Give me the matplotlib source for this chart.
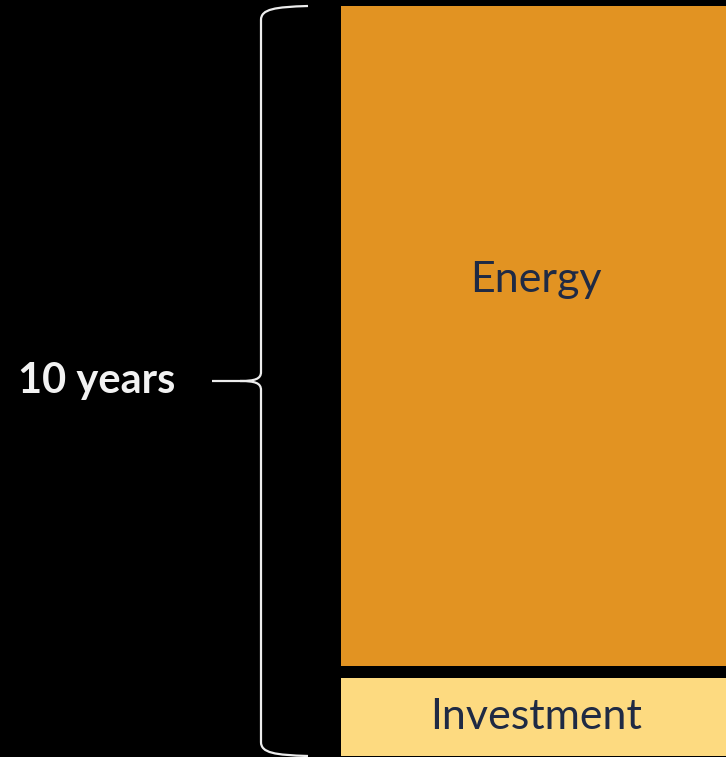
import matplotlib.pyplot as plt
from matplotlib.path import Path
from matplotlib.patches import PathPatch

# stacked segments, in years (bottom to top)
segments = ['Investment', 'Energy']
years = [1.04, 8.8]
label_pos = [0.5, 0.585]  # where the label sits inside each segment
gap = 0.16
colors = ['#FDDA80', '#E29322']
brace_label = '10 years'

fig = plt.figure(figsize=(7.26, 7.57), dpi=100)
fig.patch.set_facecolor('black')
ax = fig.add_axes([0, 0, 1, 1])
ax.set_facecolor('black')

px = 1 / 75.0  # one pixel in years
ax.set_xlim(0, 726)
ax.set_ylim(-1 * px, 10 + 6 * px)
ax.axis('off')

# the bars
bottom = 0
for name, h, c, lp in zip(segments, years, colors, label_pos):
    ax.bar(341, h, width=420, bottom=bottom, align='edge', color=c, linewidth=0)
    ax.text(536, bottom + h * lp, name, ha='center', va='center',
            fontsize=31, color='#1F2A44', family='Lato')
    bottom += h + gap

total = bottom - gap
mid = total / 2

# curly brace
xv, xt, xm = 261, 308, 212
verts = [
    (xt, total), (275, total - 1 * px), (xv, total - 3 * px), (xv, total - 14 * px),
    (xv, mid + 9 * px),
    (xv, mid + 2 * px), (255, mid), (240, mid),
    (xm, mid),
    (240, mid),
    (255, mid), (xv, mid - 2 * px), (xv, mid - 9 * px),
    (xv, 14 * px),
    (xv, 3 * px), (275, 1 * px), (xt, 0),
]
codes = [Path.MOVETO, Path.CURVE4, Path.CURVE4, Path.CURVE4,
         Path.LINETO,
         Path.CURVE4, Path.CURVE4, Path.CURVE4,
         Path.LINETO,
         Path.MOVETO,
         Path.CURVE4, Path.CURVE4, Path.CURVE4,
         Path.LINETO,
         Path.CURVE4, Path.CURVE4, Path.CURVE4]
ax.add_patch(PathPatch(Path(verts, codes), fill=False, edgecolor='#EDEDED', linewidth=1.6))

ax.text(97, mid, brace_label, ha='center', va='center', fontsize=30,
        fontweight='bold', color='#F2F2F2', family='Lato')

fig.savefig('out.png', dpi=100, facecolor='black')
